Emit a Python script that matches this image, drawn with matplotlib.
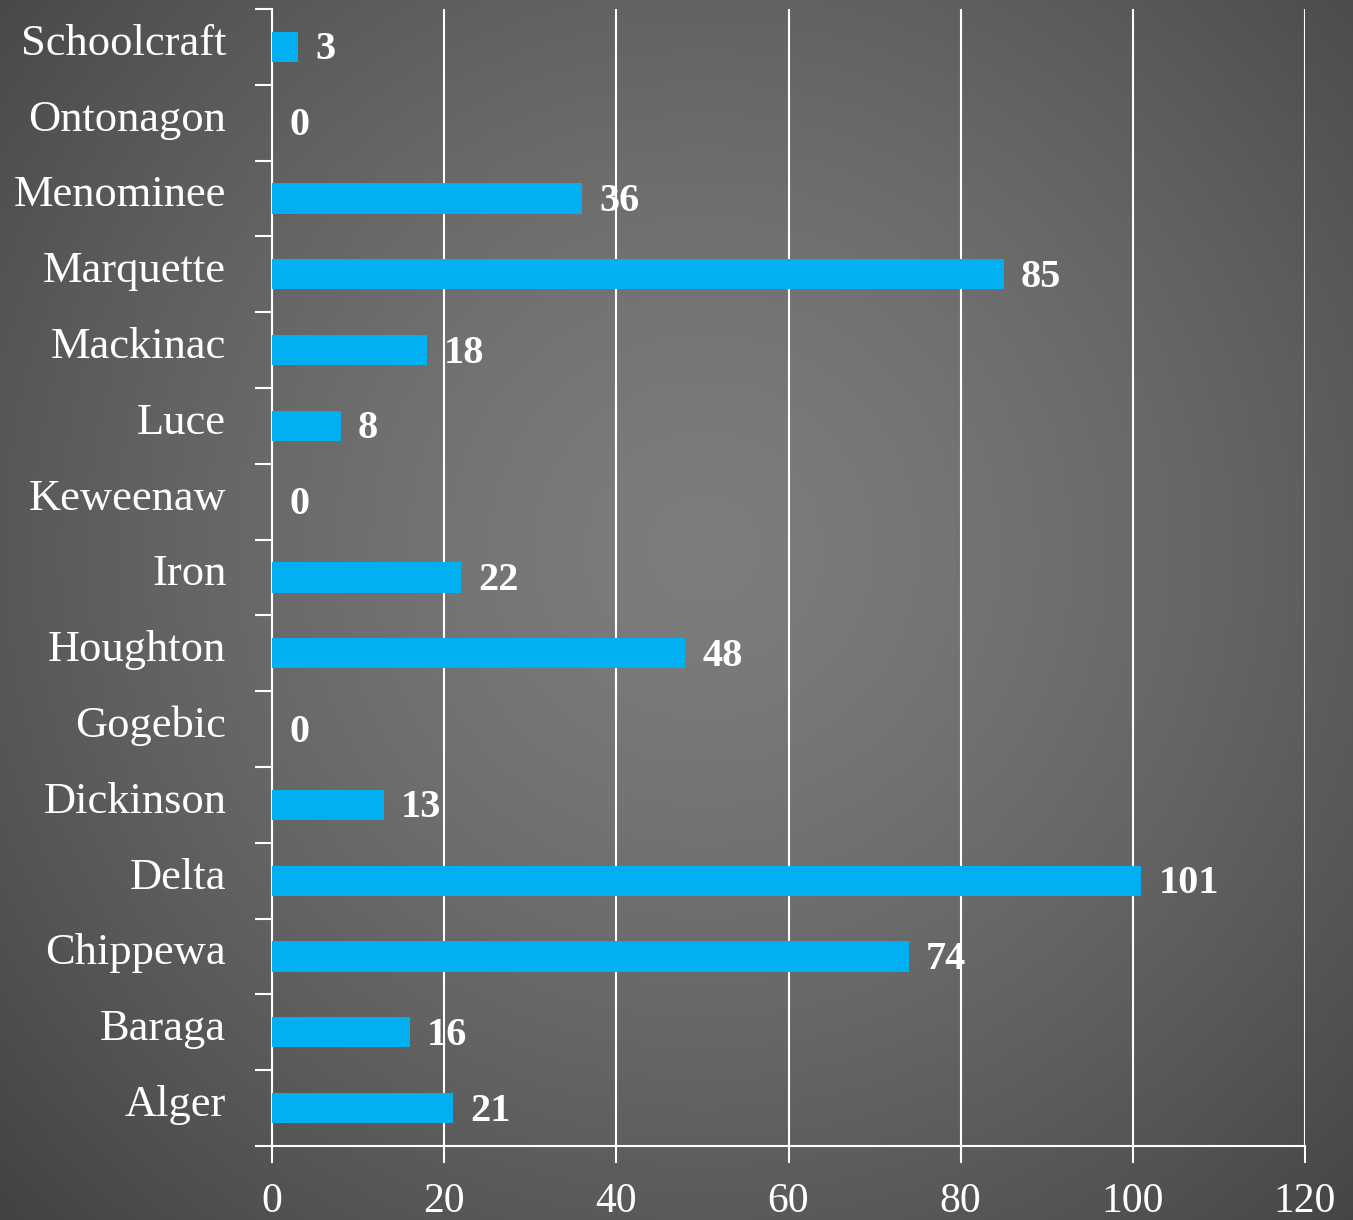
import matplotlib
matplotlib.use("Agg")
import matplotlib.pyplot as plt
from matplotlib.ticker import FixedLocator
import numpy as np

counties = ["Alger", "Baraga", "Chippewa", "Delta", "Dickinson", "Gogebic",
            "Houghton", "Iron", "Keweenaw", "Luce", "Mackinac", "Marquette",
            "Menominee", "Ontonagon", "Schoolcraft"]
counts = [21, 16, 74, 101, 13, 0, 48, 22, 0, 8, 18, 85, 36, 0, 3]
xticks = [0, 20, 40, 60, 80, 100, 120]

BAR = "#00B0F0"
FONT = ["Liberation Serif", "DejaVu Serif"]

W, H = 1353, 1220
fig = plt.figure(figsize=(W / 100, H / 100), dpi=100)

# radial grey backdrop, light in the middle, dark towards the corners
bg = fig.add_axes([0, 0, 1, 1], zorder=-1)
yy, xx = np.mgrid[0:H, 0:W]
cx, cy = 0.52 * W, 0.45 * H
r = np.hypot(xx - cx, yy - cy) / np.hypot(0.55 * W, 0.58 * H)
shade = 0.49 - 0.25 * np.clip(r, 0, 1.15) ** 1.4
bg.imshow(np.dstack([shade] * 3), aspect="auto", extent=[0, 1, 0, 1])
bg.set_axis_off()

ax = fig.add_axes([272 / W, 74 / H, (1305 - 272) / W, (1146 - 9) / H])
ax.patch.set_alpha(0)

ypos = np.arange(len(counties))
ax.barh(ypos, counts, height=0.4, color=BAR, zorder=3)
for y, v in zip(ypos, counts):
    ax.text(v + 2.0, y - 0.04, str(v), va="center", ha="left", color="white",
            fontsize=29, fontweight="bold", family=FONT)

ax.set_xlim(0, 120)
ax.set_ylim(-0.5, len(counties) - 0.5)
ax.set_xticks(xticks)
ax.set_xticklabels([str(t) for t in xticks], family=FONT, fontsize=30, color="white")
# category names sit a little above the bar centre
ax.set_yticks(ypos + 0.1)
ax.set_yticklabels(counties, family=FONT, fontsize=32, color="white")
ax.yaxis.set_minor_locator(FixedLocator(np.arange(-0.5, len(counties), 1.0)))

ax.tick_params(axis="y", which="major", length=0, pad=33)
ax.tick_params(axis="y", which="minor", length=12, width=1.5, color="white", direction="out")
ax.tick_params(axis="x", which="major", length=12, width=1.5, color="white", direction="out", pad=14)

ax.grid(axis="x", color="white", linewidth=1.5, zorder=1)
ax.set_axisbelow(True)
for side in ["top", "right"]:
    ax.spines[side].set_visible(False)
for side in ["left", "bottom"]:
    ax.spines[side].set_color("white")
    ax.spines[side].set_linewidth(1.5)

fig.savefig("out.png", dpi=100)
